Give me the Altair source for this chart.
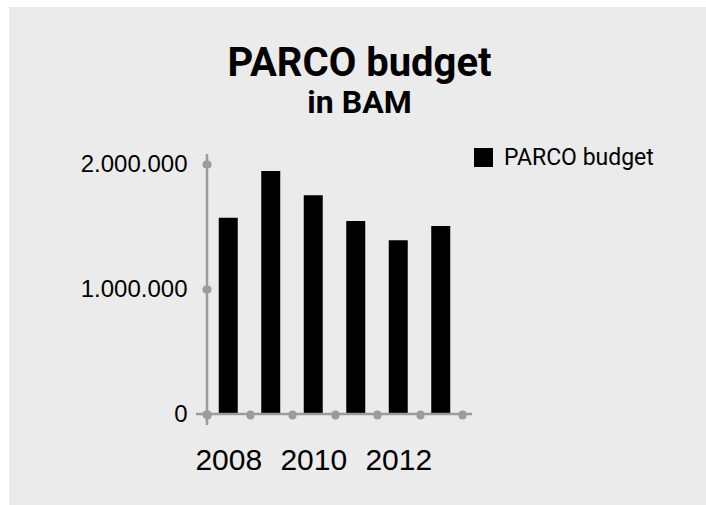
import altair as alt
import pandas as pd

# ---- data ----
years = [2008, 2009, 2010, 2011, 2012, 2013]
budget = [1570000, 1945000, 1750000, 1545000, 1390000, 1505000]
series = ["PARCO budget"] * len(years)
y_ticks = [0, 1000000, 2000000]

df = pd.DataFrame({"year": years, "budget": budget, "series": series})
one = pd.DataFrame({"k": [0]})

# ---- layout ----
W, H = 255, 250
PAD_L, PAD_T = 207, 164
PAD_R, PAD_B = 706 - PAD_L - W, 505 - PAD_T - H
BG = "#ebebeb"
GRAY = "#9b9b9b"
TFONT = "Roboto, Liberation Sans, sans-serif"
SANS = "Liberation Sans, Arial, sans-serif"

panel = alt.Chart(one).mark_rect(color=BG).encode(
    x=alt.value(9 - PAD_L), x2=alt.value(706 - PAD_L),
    y=alt.value(7 - PAD_T), y2=alt.value(505 - PAD_T),
)

bars = alt.Chart(df).mark_bar(width=alt.RelativeBandSize(0.447)).encode(
    x=alt.X(
        "year:O",
        scale=alt.Scale(paddingInner=0, paddingOuter=0),
        axis=alt.Axis(
            title=None, domain=False, tickBand="extent", tickSize=1, tickWidth=8,
            tickCap="round", tickColor=GRAY, labelAngle=0, labelOverlap=False,
            labelExpr="datum.value % 2 == 0 ? datum.label : ''",
            labelFont=SANS, labelFontSize=30, labelColor="black", labelPadding=30,
            zindex=1,
        ),
    ),
    y=alt.Y(
        "budget:Q",
        scale=alt.Scale(domain=[0, 2000000], nice=False),
        axis=alt.Axis(
            title=None, domain=False, grid=False, values=y_ticks, tickSize=1, tickWidth=8,
            tickCap="round", tickColor=GRAY,
            labelExpr="replace(replace(format(datum.value, ','), ',', '.'), ',', '.')",
            labelFont=SANS, labelFontSize=24, labelColor="black", labelPadding=19,
            zindex=1,
        ),
    ),
    color=alt.Color(
        "series:N",
        scale=alt.Scale(range=["#000000"]),
        legend=alt.Legend(
            title=None, orient="none", legendX=265, legendY=-18, padding=0,
            symbolType="square", symbolSize=361, symbolStrokeWidth=0,
            labelFont=TFONT, labelFontSize=23, labelOffset=9, labelColor="black",
            labelLimit=0,
        ),
    ),
)

yline = alt.Chart(one).mark_rule(color=GRAY, strokeWidth=2.5).encode(
    x=alt.value(0), y=alt.value(-10), y2=alt.value(H + 11)
)
xline = alt.Chart(one).mark_rule(color=GRAY, strokeWidth=2.5).encode(
    x=alt.value(-11), x2=alt.value(W + 10), y=alt.value(H)
)

chart = alt.layer(panel, bars, yline, xline).properties(
    width=W, height=H,
    autosize=alt.AutoSizeParams(type="none"),
    padding={"left": PAD_L, "top": PAD_T, "right": PAD_R, "bottom": PAD_B},
    background="white",
    title=alt.TitleParams(
        text="PARCO budget", subtitle="in BAM",
        font=TFONT, fontSize=40, fontWeight="bold", color="black",
        subtitleFont=TFONT, subtitleFontSize=32, subtitleFontWeight="bold",
        subtitleColor="black", anchor="middle", dx=25, offset=-112, subtitlePadding=4,
    ),
).configure_view(stroke=None)

chart.save("out.html", embed_options={"renderer": "svg", "actions": False})
